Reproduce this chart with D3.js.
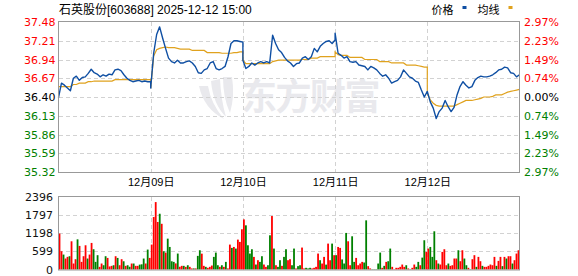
<!DOCTYPE html>
<html>
<head>
<meta charset="utf-8">
<script src="https://cdn.jsdelivr.net/npm/d3@7"></script>
<style>
  body { margin: 0; background: #fff; }
  svg { display: block; }
</style>
</head>
<body>
<div id="chart"></div>
<script>
// five-day intraday chart, 石英股份
const title = '石英股份[603688] 2025-12-12 15:00';
const days = ['12-08', '12-09', '12-10', '12-11', '12-12'];
const dayLabels = ['12月09日', '12月10日', '12月11日', '12月12日'];
const prevClose = 36.40;
const priceTicks = [37.48, 37.21, 36.94, 36.67, 36.40, 36.13, 35.86, 35.59, 35.32];
const pctTicks = ['2.97%', '2.23%', '1.49%', '0.74%', '0.00%', '0.74%', '1.49%', '2.23%', '2.97%'];
const volTicks = [2396, 1797, 1198, 599, 0];

// price, sampled ~every 3px of the original
const price1208 = [36.39, 36.60, 36.57, 36.53, 36.49, 36.67, 36.70, 36.64, 36.68, 36.69, 36.74, 36.80, 36.75, 36.73, 36.69, 36.72,
  36.70, 36.73, 36.72, 36.79, 36.80, 36.78, 36.72, 36.67, 36.64, 36.62, 36.63, 36.64, 36.62, 36.63, 36.62, 36.62];
const price1209 = [36.53, 37.03, 37.30, 37.41, 37.25, 37.10, 36.96, 36.91, 36.89, 36.93, 36.89, 36.89, 36.91, 36.92, 36.89, 36.84,
  36.75, 36.74, 36.79, 36.81, 36.89, 36.91, 36.81, 36.79, 36.81, 36.84, 36.98, 37.17, 37.21, 37.21, 37.20, 37.19];
const price1210 = [36.93, 36.81, 36.84, 36.89, 36.86, 36.89, 36.91, 36.89, 36.91, 36.89, 37.29, 37.17, 37.08, 37.04, 36.97, 36.92,
  36.89, 36.84, 36.88, 36.89, 36.96, 36.98, 36.94, 36.98, 37.10, 37.05, 37.13, 37.17, 37.20, 37.21, 37.17, 37.22];
const price1211 = [37.32, 37.03, 37.00, 36.96, 36.98, 36.91, 36.90, 36.91, 36.86, 36.85, 36.84, 36.79, 36.84, 36.82, 36.79, 36.74,
  36.70, 36.72, 36.67, 36.60, 36.62, 36.64, 36.69, 36.79, 36.74, 36.69, 36.67, 36.63, 36.61, 36.50, 36.40, 36.48];
const price1212 = [36.48, 36.33, 36.24, 36.09, 36.19, 36.24, 36.35, 36.26, 36.19, 36.25, 36.43, 36.55, 36.62, 36.57, 36.53, 36.55,
  36.64, 36.68, 36.70, 36.69, 36.69, 36.70, 36.72, 36.75, 36.79, 36.80, 36.83, 36.82, 36.75, 36.74, 36.69, 36.72];

// average price line
const avg1208 = [36.55, 36.55, 36.55, 36.55, 36.55, 36.58, 36.58, 36.60, 36.60, 36.60, 36.62, 36.62, 36.63, 36.63, 36.63, 36.63,
  36.63, 36.63, 36.63, 36.65, 36.65, 36.65, 36.65, 36.65, 36.65, 36.65, 36.65, 36.65, 36.65, 36.65, 36.65, 36.65];
const avg1209 = [36.53, 36.99, 37.08, 37.10, 37.11, 37.12, 37.11, 37.11, 37.11, 37.10, 37.09, 37.09, 37.09, 37.09, 37.07, 37.07,
  37.07, 37.07, 37.07, 37.04, 37.04, 37.04, 37.04, 37.04, 37.03, 37.03, 37.03, 37.03, 37.04, 37.04, 37.05, 37.05];
const avg1210 = [36.93, 36.88, 36.88, 36.88, 36.88, 36.88, 36.88, 36.88, 36.88, 36.88, 36.91, 36.92, 36.93, 36.93, 36.93, 36.93,
  36.93, 36.93, 36.93, 36.93, 36.94, 36.94, 36.94, 36.96, 36.96, 36.96, 36.98, 36.98, 36.98, 36.98, 36.98, 36.98];
const avg1211 = [37.05, 37.01, 37.00, 37.00, 37.00, 36.97, 36.97, 36.97, 36.97, 36.97, 36.94, 36.94, 36.94, 36.94, 36.94, 36.91,
  36.91, 36.91, 36.91, 36.89, 36.89, 36.89, 36.89, 36.89, 36.86, 36.86, 36.86, 36.86, 36.85, 36.84, 36.83, 36.83];
const avg1212 = [36.45, 36.36, 36.31, 36.28, 36.27, 36.27, 36.27, 36.27, 36.27, 36.27, 36.29, 36.31, 36.33, 36.35, 36.35, 36.35,
  36.36, 36.37, 36.38, 36.40, 36.40, 36.40, 36.41, 36.43, 36.43, 36.43, 36.45, 36.47, 36.48, 36.49, 36.50, 36.51];

// volume (lots) with up/down tick, ~every 2px
const vol1208 = [[1180,'u'],[600,'u'],[490,'d'],[360,'u'],[415,'u'],[436,'d'],[926,'u'],[196,'u'],[338,'u'],[990,'d'],
  [774,'u'],[250,'u'],[436,'u'],[795,'u'],[360,'d'],[490,'u'],[872,'u'],[665,'d'],[250,'d'],[470,'d'],
  [87,'u'],[196,'u'],[140,'d'],[436,'d'],[380,'u'],[100,'u'],[120,'u'],[140,'d'],[436,'u'],[380,'d'],
  [140,'u'],[338,'u'],[270,'d'],[120,'u'],[140,'d'],[90,'d'],[196,'u'],[196,'d'],[120,'u'],[120,'u'],
  [160,'d'],[170,'d'],[360,'d'],[196,'u'],[654,'d'],[380,'u']];
const vol1209 = [[818,'u'],[1722,'u'],[2213,'u'],[1560,'u'],[1830,'d'],[1500,'u'],[600,'d'],[555,'u'],[1013,'d'],[740,'d'],
  [270,'d'],[250,'d'],[200,'u'],[523,'d'],[90,'u'],[120,'u'],[120,'d'],[87,'u'],[140,'d'],[87,'u'],
  [35,'u'],[35,'d'],[35,'u'],[447,'d'],[632,'d'],[520,'u'],[120,'u'],[87,'d'],[55,'u'],[87,'u'],
  [130,'u'],[414,'d'],[555,'d'],[140,'d'],[87,'u'],[140,'d'],[87,'u'],[250,'d'],[35,'u'],[818,'u'],
  [709,'d'],[740,'u'],[687,'d'],[981,'u'],[905,'u'],[1320,'u']];
const vol1210 = [[1645,'u'],[1450,'d'],[795,'d'],[523,'d'],[665,'d'],[414,'u'],[163,'d'],[305,'u'],[250,'d'],[436,'d'],
  [163,'u'],[87,'u'],[140,'d'],[1123,'d'],[1755,'u'],[687,'d'],[140,'u'],[87,'d'],[305,'d'],[120,'u'],
  [414,'d'],[665,'d'],[305,'u'],[338,'u'],[140,'d'],[687,'d'],[35,'u'],[110,'d'],[140,'d'],[720,'u'],
  [35,'u'],[55,'d'],[35,'d'],[55,'d'],[35,'u'],[55,'u'],[87,'u'],[523,'u'],[305,'d'],[196,'u'],
  [414,'u'],[160,'d'],[850,'u'],[305,'u'],[850,'d'],[470,'u']];
const vol1211 = [[470,'d'],[740,'u'],[709,'u'],[330,'d'],[196,'d'],[1200,'d'],[926,'u'],[140,'u'],[1090,'d'],[250,'d'],
  [380,'u'],[140,'u'],[196,'u'],[250,'u'],[229,'d'],[1613,'d'],[110,'u'],[35,'u'],[10,'d'],[10,'d'],
  [10,'d'],[196,'d'],[555,'d'],[55,'u'],[120,'d'],[250,'u'],[272,'d'],[687,'d'],[87,'u'],[10,'u'],
  [55,'u'],[55,'u'],[87,'u'],[163,'u'],[87,'u'],[140,'d'],[35,'u'],[10,'d'],[55,'u'],[163,'u'],
  [87,'d'],[250,'d'],[140,'u'],[390,'d'],[960,'d'],[577,'u']];
const vol1212 = [[687,'u'],[740,'d'],[414,'d'],[1254,'d'],[305,'u'],[196,'d'],[163,'u'],[577,'u'],[665,'u'],[140,'u'],
  [196,'d'],[120,'u'],[140,'u'],[360,'u'],[360,'u'],[632,'d'],[272,'u'],[632,'u'],[360,'d'],[140,'d'],
  [55,'u'],[10,'d'],[338,'u'],[470,'u'],[87,'d'],[414,'u'],[272,'u'],[120,'d'],[87,'u'],[87,'u'],
  [120,'u'],[163,'u'],[140,'u'],[414,'u'],[120,'d'],[283,'u'],[414,'u'],[110,'d'],[414,'u'],[360,'d'],
  [436,'u'],[436,'u'],[196,'d'],[305,'u'],[523,'u'],[632,'u']];

const prices = [price1208, price1209, price1210, price1211, price1212];
const avgs = [avg1208, avg1209, avg1210, avg1211, avg1212];
const vols = [vol1208, vol1209, vol1210, vol1211, vol1212];

const plot = { left: 58.5, right: 519.5, top: 22, bottom: 172 };
const volBox = { top: 196.5, bottom: 269.5 };
const gridColor = '#d2d2d2';
const frameColor = '#999';
const up = '#ff0000';
const down = '#008000';
const numFont = '"DejaVu Sans", sans-serif';
const cjkFont = '"Liberation Sans", "Noto Sans CJK SC", sans-serif';

const svg = d3.select('#chart').append('svg')
  .attr('width', 578)
  .attr('height', 276);

const x = d3.scaleLinear().domain([0, days.length]).range([plot.left, plot.right]);
const y = d3.scaleLinear().domain([35.32, 37.48]).range([plot.bottom, plot.top]);
const yVol = d3.scaleLinear().domain([0, 2396]).range([volBox.bottom, volBox.top]);

// watermark
const wm = svg.append('g').attr('fill', '#e9e9ed');
wm.append('path').attr('d', 'M199,86 Q204,109 224,119 Q211,104 208,86 Z');
wm.append('path').attr('d', 'M211,81 Q213,104 226,117 Q221,100 220,79 Z');
wm.append('path').attr('d', 'M223,77 Q223,98 230,113 Q235,96 232,77 Z');
wm.append('text')
  .attr('x', 241)
  .attr('y', 110)
  .attr('font-family', '"Noto Sans CJK SC", sans-serif')
  .attr('font-weight', 'bold')
  .attr('font-size', 36)
  .attr('letter-spacing', -1.5)
  .text('东方财富');

// gridlines
const grid = svg.append('g')
  .attr('stroke', gridColor)
  .attr('stroke-dasharray', '4,3')
  .attr('shape-rendering', 'crispEdges');

grid.selectAll('.hp')
  .data(priceTicks.slice(1, -1))
  .enter().append('line')
  .attr('x1', plot.left)
  .attr('x2', plot.right)
  .attr('y1', d => Math.round(y(d)) + 0.5)
  .attr('y2', d => Math.round(y(d)) + 0.5);

grid.selectAll('.hv')
  .data(volTicks.slice(1, -1))
  .enter().append('line')
  .attr('x1', plot.left)
  .attr('x2', plot.right)
  .attr('y1', d => Math.round(yVol(d)) + 0.5)
  .attr('y2', d => Math.round(yVol(d)) + 0.5);

[[plot.top, plot.bottom], [volBox.top, volBox.bottom]].forEach(([t, b]) => {
  grid.selectAll(null)
    .data(d3.range(1, days.length))
    .enter().append('line')
    .attr('x1', d => Math.round(x(d)) + 0.5)
    .attr('x2', d => Math.round(x(d)) + 0.5)
    .attr('y1', t)
    .attr('y2', b);
});

// volume bars
const bars = [];
vols.forEach((day, d) => {
  day.forEach(([v, dir], j) => bars.push({ t: d + (j + 0.5) / day.length, v, dir }));
});

svg.append('g')
  .selectAll('rect')
  .data(bars)
  .enter().append('rect')
  .attr('x', d => x(d.t) - 0.9)
  .attr('width', 1.8)
  .attr('y', d => yVol(d.v))
  .attr('height', d => yVol(0) - yVol(d.v))
  .attr('fill', d => (d.dir === 'u' ? up : down));

// price and average lines
const toPoints = series => series.flatMap((day, d) =>
  day.map((v, i) => ({ t: d + i / (day.length - 1), v })));

const line = d3.line()
  .x(d => x(d.t))
  .y(d => y(d.v));

svg.append('path')
  .datum(toPoints(avgs))
  .attr('fill', 'none')
  .attr('stroke', '#e0a21e')
  .attr('stroke-width', 1.2)
  .attr('d', line);

svg.append('path')
  .datum(toPoints(prices))
  .attr('fill', 'none')
  .attr('stroke', '#0f4fa3')
  .attr('stroke-width', 1.4)
  .attr('stroke-linejoin', 'round')
  .attr('d', line);

// frames
svg.append('rect')
  .attr('x', plot.left)
  .attr('y', plot.top - 0.5)
  .attr('width', plot.right - plot.left)
  .attr('height', plot.bottom - plot.top + 1)
  .attr('fill', 'none')
  .attr('stroke', frameColor);

svg.append('rect')
  .attr('x', plot.left)
  .attr('y', volBox.top)
  .attr('width', plot.right - plot.left)
  .attr('height', volBox.bottom - volBox.top + 0.5)
  .attr('fill', 'none')
  .attr('stroke', frameColor);

// axes
const tickColor = v => (v > prevClose ? up : v < prevClose ? down : '#000');

const styleAxis = (g, color) => {
  g.select('.domain').remove();
  g.selectAll('text')
    .attr('font-family', numFont)
    .attr('font-size', 11)
    .attr('fill', color);
};

svg.append('g')
  .attr('transform', `translate(${plot.left},0)`)
  .call(d3.axisLeft(y).tickValues(priceTicks).tickSize(0).tickPadding(3).tickFormat(d3.format('.2f')))
  .call(g => styleAxis(g, tickColor));

svg.append('g')
  .attr('transform', `translate(${plot.right},0)`)
  .call(d3.axisRight(y).tickValues(priceTicks).tickSize(0).tickPadding(4.5)
    .tickFormat((d, i) => pctTicks[i]))
  .call(g => styleAxis(g, tickColor));

svg.append('g')
  .attr('transform', `translate(${plot.left},0)`)
  .call(d3.axisLeft(yVol).tickValues(volTicks).tickSize(0).tickPadding(5.5).tickFormat(d3.format('d')))
  .call(g => styleAxis(g, '#111'));

svg.append('g')
  .attr('transform', `translate(0,${plot.bottom})`)
  .call(d3.axisBottom(x).tickValues(d3.range(1, days.length)).tickSize(0).tickPadding(6)
    .tickFormat((d, i) => dayLabels[i]))
  .call(g => {
    g.select('.domain').remove();
    g.selectAll('text')
      .attr('font-family', cjkFont)
      .attr('font-size', 11)
      .attr('fill', '#000');
  });

// title and legend
svg.append('text')
  .attr('x', 59)
  .attr('y', 14)
  .attr('font-family', cjkFont)
  .attr('font-size', 12)
  .text(title);

const legend = [
  { label: '价格', color: '#0f4fa3', x: 431.5 },
  { label: '均线', color: '#e0a21e', x: 477.5 },
];

legend.forEach(l => {
  svg.append('text')
    .attr('x', l.x)
    .attr('y', 13.5)
    .attr('font-family', cjkFont)
    .attr('font-size', 11)
    .text(l.label);
  svg.append('rect')
    .attr('x', l.x + 31)
    .attr('y', 6)
    .attr('width', 4)
    .attr('height', 3)
    .attr('fill', l.color);
});
</script>
</body>
</html>
